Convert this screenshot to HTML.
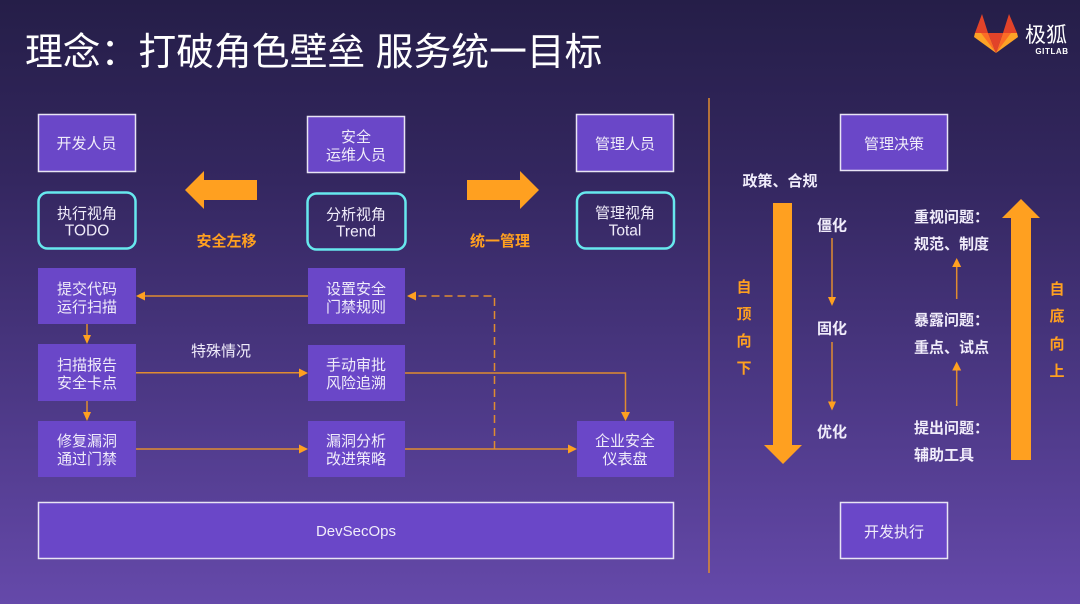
<!DOCTYPE html>
<html lang="zh"><head><meta charset="utf-8"><title>理念：打破角色壁垒 服务统一目标</title>
<style>
html,body{margin:0;padding:0;width:1080px;height:604px;overflow:hidden;background:#2a2250}
svg{display:block}
text{font-family:"Liberation Sans","Noto Sans CJK SC",sans-serif;fill:#f0ecfa;text-anchor:middle;font-size:15px}
.b{fill:#6a47c8}
.bw{fill:#6a47c8;stroke:#e8e4f4;stroke-width:1.5}
.c{fill:none;stroke:#67e8ee;stroke-width:2.5}
.l{stroke:#e08c30;stroke-width:1.5;fill:none}
.a{fill:#ffa020}
.o{fill:#ffa020;font-weight:700;font-size:15px}
.w{font-weight:700;font-size:15px}
.s{text-anchor:start}
.n{font-size:15.500px}
</style></head><body>
<svg width="1080" height="604" viewBox="0 0 1080 604" xmlns="http://www.w3.org/2000/svg">
<defs><linearGradient id="bg" x1="0" y1="0" x2="0" y2="1">
<stop offset="0" stop-color="#251e48"/><stop offset=".3" stop-color="#342760"/><stop offset=".65" stop-color="#4c3885"/><stop offset="1" stop-color="#6549aa"/>
</linearGradient></defs>
<rect width="1080" height="604" fill="url(#bg)"/>

<text x="25" y="65" class="s" style="font-size:37.800px;fill:#fff">理念：打破角色壁垒 服务统一目标</text>

<!-- logo -->
<polygon points="982,14 975,33 988,33" fill="#e24329"/>
<polygon points="1009,14 1003,33 1017,33" fill="#e24329"/>
<polygon points="988,33 1003,33 996,53" fill="#e24329"/>
<polygon points="975,33 988,33 996,53" fill="#fc6d26"/>
<polygon points="1017,33 1003,33 996,53" fill="#fc6d26"/>
<polygon points="975,33 974,37 996,53 981,33" fill="#fca326"/>
<polygon points="1017,33 1018,37 996,53 1011,33" fill="#fca326"/>
<text x="1046" y="42" style="font-size:21px;fill:#fff">极狐</text>
<text x="1052" y="54" style="font-size:8px;font-weight:700;fill:#fff;letter-spacing:.6px">GITLAB</text>

<!-- top boxes -->
<rect class="bw" x="38.500" y="114.500" width="97" height="57"/>
<text x="86.500" y="148.500">开发人员</text>
<rect class="bw" x="307.500" y="116.500" width="97" height="56"/>
<text x="356" y="142">安全</text><text x="356" y="160">运维人员</text>
<rect class="bw" x="576.500" y="114.500" width="97" height="57"/>
<text x="625" y="149">管理人员</text>

<!-- cyan boxes -->
<rect class="c" x="38.500" y="192.500" width="97" height="56" rx="9"/>
<text x="87" y="218.500">执行视角</text><text class="n" x="87" y="235.500">TODO</text>
<rect class="c" x="307.500" y="193.500" width="98" height="56" rx="9"/>
<text x="356" y="219.500">分析视角</text><text class="n" x="356" y="236.500">Trend</text>
<rect class="c" x="577" y="192.500" width="97" height="56" rx="9"/>
<text x="625" y="218">管理视角</text><text class="n" x="625" y="235.500">Total</text>

<!-- big arrows -->
<polygon class="a" points="185,190 204,171 204,180 257,180 257,200 204,200 204,209"/>
<polygon class="a" points="539,190 520,171 520,180 467,180 467,200 520,200 520,209"/>
<text class="o" x="226.500" y="246">安全左移</text>
<text class="o" x="500" y="246">统一管理</text>

<!-- flow boxes -->
<rect class="b" x="38" y="268" width="98" height="56"/>
<text x="87" y="294">提交代码</text><text x="87" y="312">运行扫描</text>
<rect class="b" x="38" y="344" width="98" height="57"/>
<text x="87" y="370">扫描报告</text><text x="87" y="388">安全卡点</text>
<rect class="b" x="38" y="421" width="98" height="56"/>
<text x="87" y="446">修复漏洞</text><text x="87" y="464">通过门禁</text>
<rect class="b" x="308" y="268" width="97" height="56"/>
<text x="356" y="294">设置安全</text><text x="356" y="312">门禁规则</text>
<rect class="b" x="308" y="345" width="97" height="56"/>
<text x="356" y="370">手动审批</text><text x="356" y="388">风险追溯</text>
<rect class="b" x="308" y="421" width="97" height="56"/>
<text x="356" y="446">漏洞分析</text><text x="356" y="464">改进策略</text>
<rect class="b" x="577" y="421" width="97" height="56"/>
<text x="625" y="446">企业安全</text><text x="625" y="464">仪表盘</text>

<text x="221" y="356">特殊情况</text>

<!-- connectors -->
<path class="l" d="M308 296H144M87 324V337M87 401V413M136 372.700H300M136 449H300M405 373H625.500V413M405 449H569"/>
<path class="l" d="M494.500 449V296H415" stroke-dasharray="8 5"/>
<polygon class="a" points="136,296 145,291.500 145,300.500"/>
<polygon class="a" points="407,296 416,291.500 416,300.500"/>
<polygon class="a" points="87,344 83,335 91,335"/>
<polygon class="a" points="87,421 83,412 91,412"/>
<polygon class="a" points="308,373 299,368.500 299,377.500"/>
<polygon class="a" points="308,449 299,444.500 299,453.500"/>
<polygon class="a" points="577,449 568,444.500 568,453.500"/>
<polygon class="a" points="625.500,421 621,412 630,412"/>

<!-- bottom -->
<rect class="bw" x="38.500" y="502.500" width="635" height="56"/>
<text x="356" y="536">DevSecOps</text>
<rect class="bw" x="840.500" y="502.500" width="107" height="56"/>
<text x="894" y="537">开发执行</text>
<rect class="bw" x="840.500" y="114.500" width="107" height="56"/>
<text x="894" y="149">管理决策</text>

<!-- divider -->
<line x1="709" y1="98" x2="709" y2="573" stroke="#e08c30" stroke-width="1.500"/>

<!-- right side -->
<text class="w" x="780" y="186">政策、合规</text>
<polygon class="a" points="773,203 792,203 792,445 802,445 783,464 764,445 773,445"/>
<polygon class="a" points="1021,199 1040,218 1031,218 1031,460 1011,460 1011,218 1002,218"/>
<text class="o" x="744" y="292">自</text><text class="o" x="744" y="319">顶</text><text class="o" x="744" y="346">向</text><text class="o" x="744" y="373">下</text>
<text class="o" x="1057" y="294">自</text><text class="o" x="1057" y="321">底</text><text class="o" x="1057" y="349">向</text><text class="o" x="1057" y="376">上</text>

<text class="w" x="832" y="230.500">僵化</text>
<text class="w" x="832" y="333.500">固化</text>
<text class="w" x="832" y="437">优化</text>
<path class="l" d="M832 238V300M832 342V403"/>
<polygon class="a" points="832,306 828,297 836,297"/>
<polygon class="a" points="832,410.500 828,401.500 836,401.500"/>

<text class="w s" x="914" y="222">重视问题：</text>
<text class="w s" x="914" y="249">规范、制度</text>
<text class="w s" x="914" y="325">暴露问题：</text>
<text class="w s" x="914" y="352.500">重点、试点</text>
<text class="w s" x="914" y="433">提出问题：</text>
<text class="w s" x="914" y="460">辅助工具</text>
<path class="l" d="M956.700 299V265M956.700 406V369"/>
<polygon class="a" points="956.700,258 952.200,267 961.200,267"/>
<polygon class="a" points="956.700,361.500 952.200,370.500 961.200,370.500"/>
</svg>
</body></html>
